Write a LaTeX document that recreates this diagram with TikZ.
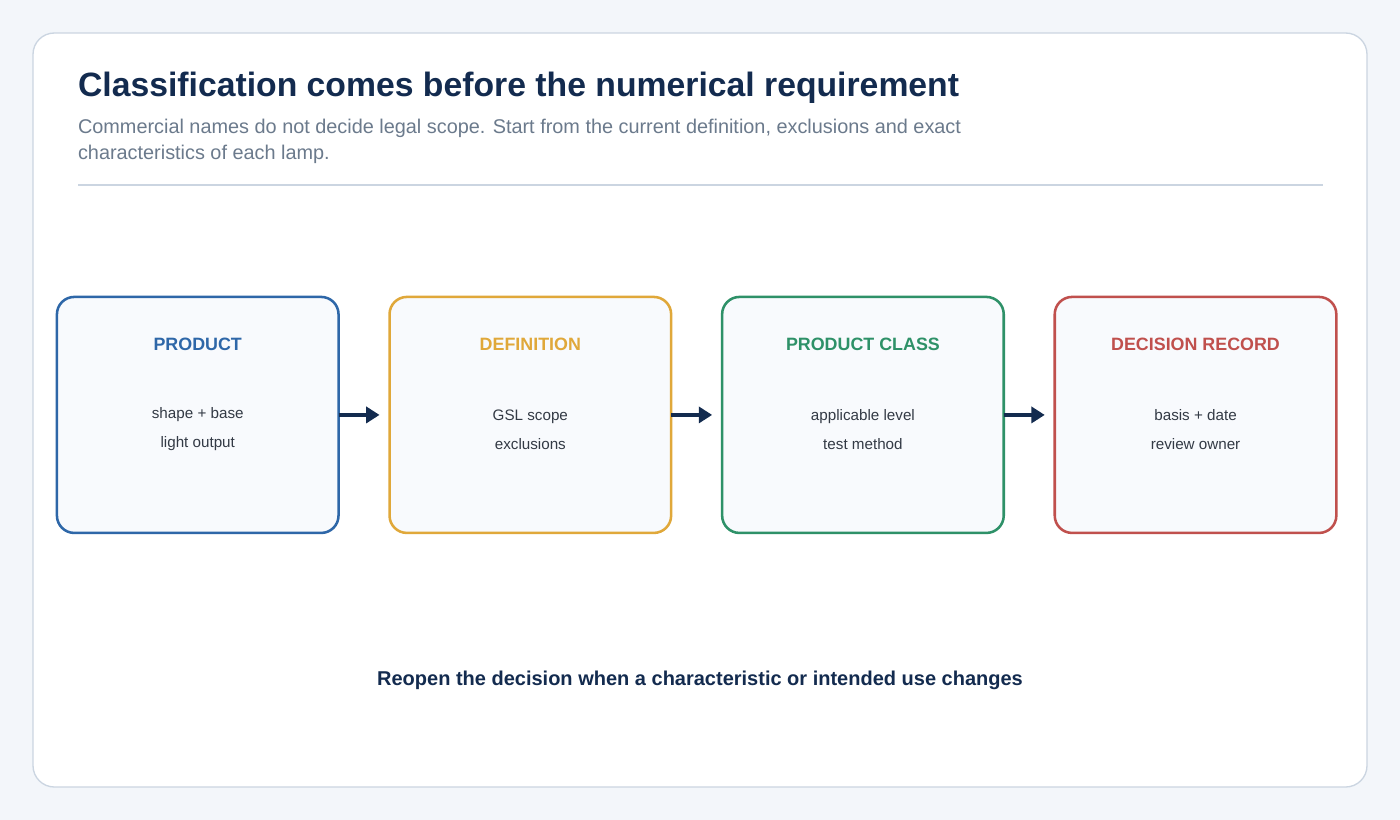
\documentclass[tikz,border=0pt]{standalone}
\usepackage{fontspec}
\setmainfont{Liberation Sans}
\usetikzlibrary{positioning,arrows.meta}
\definecolor{pagebg}{HTML}{F3F6FA}
\definecolor{cardline}{HTML}{CBD5E1}
\definecolor{navy}{HTML}{132B4F}
\definecolor{subgray}{HTML}{6B7A8C}
\definecolor{boxfill}{HTML}{F8FAFD}
\definecolor{cblue}{HTML}{2E67A8}
\definecolor{corange}{HTML}{E0A83A}
\definecolor{cgreen}{HTML}{2E9168}
\definecolor{cred}{HTML}{C0504D}
\definecolor{bodytext}{HTML}{333A45}
\tikzset{
  step/.style = {draw=#1, line width=1.9pt, fill=boxfill, rounded corners=13pt, outer sep=0pt,
                 minimum width=211.2pt, minimum height=177pt},
  head/.style = {font=\fontsize{13.4}{16}\selectfont\bfseries, text=#1},
  body/.style = {font=\fontsize{11.4}{21.75}\selectfont, text=bodytext, align=center},
  flow/.style = {-{Triangle[length=10pt,width=12pt]}, draw=navy, line width=3pt, shorten >=7.5pt}
}
\begin{document}
\begin{tikzpicture}[node distance=38.25pt]
  \fill[pagebg] (0,0) rectangle (1050pt,-615pt);
  \draw[cardline, line width=1pt, fill=white, rounded corners=16pt]
    (24.75pt,-24.75pt) rectangle (1025.25pt,-590.25pt);
  % title block
  \node[anchor=west, text=navy, font=\fontsize{25.3}{30}\selectfont\bfseries] (title)
    at (55pt,-66pt) {Classification comes before the numerical requirement};
  \node[anchor=north west, text=subgray, align=left, font=\fontsize{14.9}{19}\selectfont] (sub)
    at (55pt,-86pt) {Commercial names do not decide legal scope. Start from the current definition, exclusions and exact\\characteristics of each lamp.};
  \draw[cardline, line width=1pt] (58.5pt,-138.75pt) -- (992.25pt,-138.75pt);
  % steps
  \node[step=cblue, anchor=north west] (product) at (42.7pt,-222.7pt) {};
  \node[step=corange, right=of product] (definition) {};
  \node[step=cgreen, right=of definition] (class) {};
  \node[step=cred, right=of class] (record) {};
  \foreach \b/\c/\h/\t in {product/cblue/PRODUCT/{shape + base\\light output},
                           definition/corange/DEFINITION/{GSL scope\\exclusions},
                           class/cgreen/PRODUCT CLASS/{applicable level\\test method},
                           record/cred/DECISION RECORD/{basis + date\\review owner}} {
    \node[head=\c] (\b-h) at ([yshift=-35.25pt]\b.north) {\h};
    \node[body] (\b-t) at ([yshift=-10.9pt]\b.center) {\t};
  }
  \draw[flow] (product) -- (definition);
  \draw[flow] (definition) -- (class);
  \draw[flow] (class) -- (record);
  \node[text=navy, font=\fontsize{15}{18}\selectfont\bfseries] (note) at (525pt,-510pt)
    {Reopen the decision when a characteristic or intended use changes};
\end{tikzpicture}
\end{document}
